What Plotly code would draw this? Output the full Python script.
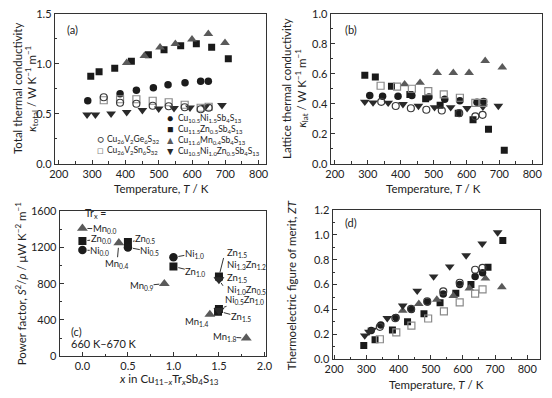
import plotly.graph_objects as go

W, H = 552, 398

# ---------------- data ----------------
# (a) total thermal conductivity
a_T_ni = [287, 384, 433, 484, 528, 579, 626, 649]
a_k_ni = [0.63, 0.70, 0.735, 0.76, 0.79, 0.81, 0.825, 0.825]
a_T_zn = [296, 321, 368, 418, 469, 516, 566, 613, 659, 709]
a_k_zn = [0.875, 0.92, 0.955, 1.025, 1.09, 1.14, 1.18, 1.20, 1.165, 1.05]
a_T_mn = [404, 457, 504, 550, 600, 649, 699]
a_k_mn = [1.01, 1.08, 1.165, 1.20, 1.245, 1.30, 1.21]
a_T_nizn = [285, 310, 357, 404, 451, 500, 546, 594, 640, 690]
a_k_nizn = [0.49, 0.49, 0.50, 0.515, 0.535, 0.55, 0.555, 0.56, 0.57, 0.585]
a_T_ge = [335, 384, 433, 482, 530, 578, 626, 650]
a_k_ge = [0.665, 0.61, 0.60, 0.58, 0.575, 0.565, 0.545, 0.56]
a_T_sn = [335, 384, 433, 482, 530, 578, 626, 650]
a_k_sn = [0.635, 0.645, 0.645, 0.63, 0.615, 0.59, 0.56, 0.57]

# (b) lattice thermal conductivity
b_T_zn = [291, 323, 372, 428, 476, 520, 575, 620, 667, 715]
b_k_zn = [0.59, 0.578, 0.516, 0.462, 0.434, 0.39, 0.337, 0.294, 0.23, 0.09]
b_T_mn = [412, 459, 511, 560, 608, 657, 709]
b_k_mn = [0.53, 0.54, 0.606, 0.606, 0.606, 0.686, 0.643]
b_T_ni = [306, 345, 392, 434, 486, 534, 580, 632, 652]
b_k_ni = [0.455, 0.45, 0.45, 0.455, 0.445, 0.43, 0.42, 0.41, 0.415]
b_T_ge = [341, 385, 431, 478, 525, 578, 627, 649]
b_k_ge = [0.413, 0.385, 0.37, 0.36, 0.355, 0.337, 0.316, 0.326]
b_T_sn = [339, 389, 434, 484, 531, 580, 627, 651]
b_k_sn = [0.52, 0.514, 0.50, 0.484, 0.462, 0.44, 0.406, 0.406]
b_T_nizn = [291, 316, 362, 407, 454, 503, 552, 602, 650, 697]
b_k_nizn = [0.413, 0.408, 0.406, 0.397, 0.385, 0.376, 0.376, 0.37, 0.38, 0.385]

# (c) power factor at 660-670 K
c_mn_x = [0.0, 0.4, 0.9, 1.4, 1.8]
c_mn_y = [1410, 1250, 800, 460, 200]
c_zn_x = [0.0, 0.5, 1.0, 1.5, 1.5, 1.49]
c_zn_y = [1270, 1260, 990, 880, 520, 490]
c_ni_x = [0.0, 0.5, 1.0, 1.5]
c_ni_y = [1170, 1200, 1090, 865]
c_nizn_x = [1.5, 1.5]
c_nizn_y = [845, 505]
c_labels = [  # text, marker x, marker y, label x, label y
    ("Mn<sub>0.0</sub>", 0.0, 1410, 0.24, 1404),
    ("Zn<sub>0.0</sub>", 0.0, 1270, 0.20, 1292),
    ("Ni<sub>0.0</sub>", 0.0, 1170, 0.19, 1165),
    ("Mn<sub>0.4</sub>", 0.4, 1250, 0.38, 1020),
    ("Zn<sub>0.5</sub>", 0.5, 1260, 0.69, 1287),
    ("Ni<sub>0.5</sub>", 0.5, 1200, 0.74, 1155),
    ("Mn<sub>0.9</sub>", 0.9, 800, 0.65, 775),
    ("Ni<sub>1.0</sub>", 1.0, 1090, 1.23, 1131),
    ("Zn<sub>1.0</sub>", 1.0, 990, 1.24, 931),
    ("Ni<sub>0.5</sub>Zn<sub>1.0</sub>", 1.5, 520, 1.78, 622),
    ("Zn<sub>1.5</sub>", 1.5, 495, 1.74, 430),
    ("Mn<sub>1.4</sub>", 1.4, 460, 1.25, 373),
    ("Mn<sub>1.8</sub>", 1.8, 200, 1.56, 213),
]
c_cluster_text = ["Zn<sub>1.5</sub>", "Ni<sub>1.3</sub>Zn<sub>1.2</sub>",
                  "Zn<sub>1.5</sub>", "Ni<sub>1.0</sub>Zn<sub>0.5</sub>"]
c_cluster_leads = [  # marker x, marker y, line start x, line start y
    (1.5, 880, 1.555, 1100),
    (1.5, 845, 1.555, 760),
]

# (d) ZT
d_T_nizn = [295, 308, 318, 365, 413, 458, 509, 559, 610, 660, 708]
d_zt_nizn = [0.19, 0.22, 0.235, 0.33, 0.43, 0.55, 0.665, 0.745, 0.835, 0.93, 1.02]
d_T_zn = [292, 327, 381, 428, 479, 529, 578, 625, 678, 724]
d_zt_zn = [0.11, 0.155, 0.235, 0.30, 0.365, 0.455, 0.53, 0.60, 0.74, 0.955]
d_T_mn = [413, 463, 519, 570, 620, 670, 721]
d_zt_mn = [0.39, 0.445, 0.48, 0.51, 0.57, 0.65, 0.58]
d_T_ni = [315, 345, 392, 440, 490, 539, 590, 638, 661]
d_zt_ni = [0.23, 0.275, 0.335, 0.40, 0.46, 0.525, 0.60, 0.665, 0.695]
d_T_ge = [342, 390, 439, 489, 539, 590, 638, 661]
d_zt_ge = [0.26, 0.33, 0.405, 0.465, 0.545, 0.615, 0.72, 0.735]
d_T_sn = [342, 393, 440, 492, 541, 590, 638, 661]
d_zt_sn = [0.16, 0.215, 0.27, 0.327, 0.385, 0.457, 0.528, 0.561]

names = {
    "ni": "Cu<sub>10.5</sub>Ni<sub>1.5</sub>Sb<sub>4</sub>S<sub>13</sub>",
    "zn": "Cu<sub>11.5</sub>Zn<sub>0.5</sub>Sb<sub>4</sub>S<sub>13</sub>",
    "mn": "Cu<sub>11.6</sub>Mn<sub>0.4</sub>Sb<sub>4</sub>S<sub>13</sub>",
    "nizn": "Cu<sub>10.5</sub>Ni<sub>1.0</sub>Zn<sub>0.5</sub>Sb<sub>4</sub>S<sub>13</sub>",
    "ge": "Cu<sub>26</sub>V<sub>2</sub>Ge<sub>6</sub>S<sub>32</sub>",
    "sn": "Cu<sub>26</sub>V<sub>2</sub>Sn<sub>6</sub>S<sub>32</sub>",
}

# ---------------- styles ----------------
FONT = "Lato"
TXT = "#222222"
STY = {
    "ni": dict(symbol="circle", size=7.5, color="#1c1c1c", line=dict(width=0)),
    "zn": dict(symbol="square", size=7, color="#1a1a1a", line=dict(width=0)),
    "mn": dict(symbol="triangle-up", size=8.5, color="#5a5a5a", line=dict(width=0)),
    "nizn": dict(symbol="triangle-down", size=8.5, color="#2a2a2a", line=dict(width=0)),
    "ge": dict(symbol="circle-open", size=7, color="#3a3a3a", line=dict(width=1.2)),
    "sn": dict(symbol="square-open", size=7, color="#8a8a8a", line=dict(width=1.2)),
}

fig = go.Figure()

def add(xs, ys, key, ax, grow=0):
    st = dict(STY[key])
    st["size"] = st["size"] + grow
    fig.add_trace(go.Scatter(x=xs, y=ys, mode="markers", marker=st, showlegend=False,
                             xaxis="x" + ax, yaxis="y" + ax, name=names.get(key, key)))

# panel a
for xs, ys, k in [(a_T_zn, a_k_zn, "zn"), (a_T_mn, a_k_mn, "mn"), (a_T_ni, a_k_ni, "ni"),
                  (a_T_nizn, a_k_nizn, "nizn"), (a_T_sn, a_k_sn, "sn"), (a_T_ge, a_k_ge, "ge")]:
    add(xs, ys, k, "")
# panel b
for xs, ys, k in [(b_T_zn, b_k_zn, "zn"), (b_T_mn, b_k_mn, "mn"), (b_T_ni, b_k_ni, "ni"),
                  (b_T_nizn, b_k_nizn, "nizn"), (b_T_sn, b_k_sn, "sn"), (b_T_ge, b_k_ge, "ge")]:
    add(xs, ys, k, "2")
# panel c
for xs, ys, k in [(c_mn_x, c_mn_y, "mn"), (c_zn_x, c_zn_y, "zn"), (c_ni_x, c_ni_y, "ni"),
                  (c_nizn_x, c_nizn_y, "nizn")]:
    add(xs, ys, k, "3", grow=1)
# panel d
for xs, ys, k in [(d_T_zn, d_zt_zn, "zn"), (d_T_mn, d_zt_mn, "mn"), (d_T_ni, d_zt_ni, "ni"),
                  (d_T_nizn, d_zt_nizn, "nizn"), (d_T_sn, d_zt_sn, "sn"), (d_T_ge, d_zt_ge, "ge")]:
    add(xs, ys, k, "4")

def px(x):
    return x / W

def py(y):
    return 1 - y / H

def axis(dom, rng, dtick, minor, fmt, anchor, tick0=None):
    d = dict(domain=dom, range=rng, dtick=dtick, ticks="inside", ticklen=4, tickwidth=1,
             tickcolor="#333", showline=True, linecolor="#333", linewidth=1, mirror=True,
             showgrid=False, zeroline=False, tickformat=fmt, anchor=anchor,
             tickfont=dict(family=FONT, size=11, color=TXT),
             minor=dict(dtick=minor, ticks="inside", ticklen=2.5, tickcolor="#333", showgrid=False))
    if tick0 is not None:
        d["tick0"] = tick0
    return d

fig.update_layout(
    width=W, height=H, margin=dict(l=0, r=0, t=0, b=0),
    paper_bgcolor="white", plot_bgcolor="white", showlegend=False,
    font=dict(family=FONT, size=11, color=TXT),
    xaxis=axis([px(48), px(265)], [188, 823], 100, 50, "d", "y", 200),
    yaxis=axis([py(162), py(7)], [0, 1.5], 0.5, 0.25, ".1f", "x", 0),
    xaxis2=axis([px(331), px(548)], [187, 830], 100, 50, "d", "y2", 200),
    yaxis2=axis([py(162), py(7)], [0, 1.0], 0.2, 0.1, ".1f", "x2", 0),
    xaxis3=axis([px(53), px(265)], [-0.25, 2.02], 0.5, 0.25, ".1f", "y3", 0),
    yaxis3=axis([py(361), py(211)], [0, 1600], 400, 200, "d", "x3", 0),
    xaxis4=axis([px(333), px(546)], [195, 840], 100, 50, "d", "y4", 200),
    yaxis4=axis([py(364), py(210)], [0, 1.2], 0.2, 0.1, ".1f", "x4", 0),
)

ann = []

def txt(x, y, s, size=11, xa="center", ya="middle", angle=0, color=TXT, align="center"):
    ann.append(dict(x=px(x), y=py(y), xref="paper", yref="paper", text=s, showarrow=False,
                    xanchor=xa, yanchor=ya, textangle=angle, borderpad=0, align=align,
                    font=dict(family=FONT, size=size, color=color)))

# axis titles
txt(9, 84, "Total thermal conductivity", 11.5, angle=-90)
txt(24, 84, "<i>κ</i><sub>total</sub> / W K<sup>−1</sup> m<sup>−1</sup>", 11.5, angle=-90)
txt(286, 84, "Lattice thermal conductivity", 11.5, angle=-90)
txt(301, 84, "<i>κ</i><sub>lat</sub> / W K<sup>−1</sup> m<sup>−1</sup>", 11.5, angle=-90)
txt(13, 286, "Power factor, <i>S</i><sup>2</sup>/<i>ρ</i> / μW K<sup>−2</sup> m<sup>−1</sup>", 11.5, angle=-90)
txt(291, 288, "Thermoelectric figure of merit, <i>ZT</i>", 11.5, angle=-90)
txt(157, 188, "Temperature, <i>T</i> / K", 11.5)
txt(437, 188, "Temperature, <i>T</i> / K", 11.5)
txt(165, 385, "<i>x</i> in Cu<sub>11−<i>x</i></sub>Tr<sub><i>x</i></sub>Sb<sub>4</sub>S<sub>13</sub>", 11.5)
txt(440, 390, "Temperature, <i>T</i> / K", 11.5)

# panel labels
txt(60, 23, "(a)", 11, xa="left")
txt(345, 23, "(b)", 11, xa="left")
txt(64, 335, "(c)", 11, xa="left")
txt(345, 223, "(d)", 11, xa="left")
txt(64, 348, "660 K–670 K", 11, xa="left")
txt(78, 214, "Tr<sub>x</sub> =", 10.5, xa="left")

# legend (as multi-line annotations: symbols column + text column)
LEGF = 8.5
leg1 = [("ni", "●"), ("zn", "■"), ("mn", "▲"), ("nizn", "▼")]
sym1 = "<br>".join('<span style="color:%s;font-size:10.5px">%s</span>' % (STY[k]["color"], s)
                   for k, s in leg1)
txt(166, 132, sym1, LEGF)
txt(173, 132, "<br>".join(names[k] for k, _ in leg1), LEGF, xa="left", align="left")
leg2 = [("ge", "○"), ("sn", "□")]
sym2 = "<br>".join('<span style="color:%s;font-size:10.5px">%s</span>' % (STY[k]["color"], s)
                   for k, s in leg2)
txt(95, 142.5, sym2, LEGF)
txt(101, 142.5, "<br>".join(names[k] for k, _ in leg2), LEGF, xa="left", align="left")

# panel c labels with leader lines
for s, mx, my, lx, ly in c_labels:
    ann.append(dict(x=mx, y=my, xref="x3", yref="y3", ax=lx, ay=ly, axref="x3", ayref="y3",
                    text=s, showarrow=True, arrowhead=0, arrowwidth=1, arrowcolor="#333",
                    standoff=5, borderpad=0, font=dict(family=FONT, size=9.5, color=TXT)))
# stacked labels of the x = 1.5 cluster
txt(224, 273, "<br>".join(c_cluster_text), 9.5, xa="left", align="left")
for mx, my, lx, ly in c_cluster_leads:
    ann.append(dict(x=mx, y=my, xref="x3", yref="y3", ax=lx, ay=ly, axref="x3", ayref="y3",
                    text="", showarrow=True, arrowhead=0, arrowwidth=1, arrowcolor="#333",
                    standoff=4))

fig.update_layout(annotations=ann)
fig.write_html("out.html")
